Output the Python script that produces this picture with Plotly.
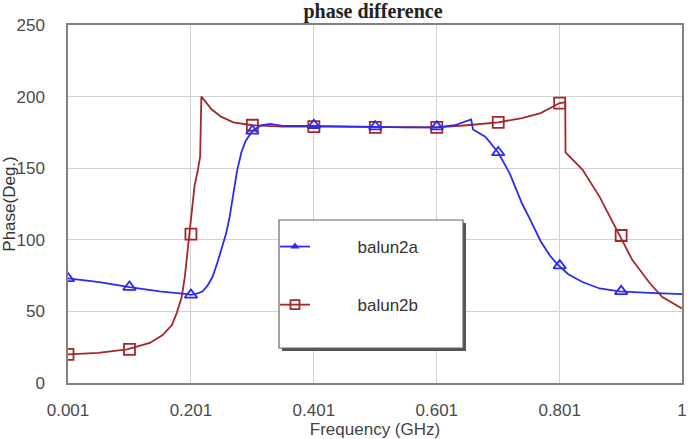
import plotly.graph_objects as go

# ---- data ----
freq_a = [0.001, 0.052, 0.101, 0.15, 0.195, 0.201, 0.212, 0.22, 0.228, 0.236, 0.244, 0.25, 0.258, 0.264,
          0.27, 0.276, 0.283, 0.29, 0.301, 0.315, 0.33, 0.35, 0.401, 0.45, 0.501, 0.55, 0.601, 0.63, 0.657,
          0.66, 0.68, 0.701, 0.72, 0.74, 0.752, 0.77, 0.785, 0.797, 0.815, 0.838, 0.866, 0.898, 0.947, 1.0]
phase_a = [73, 70.5, 67, 64, 62, 61.5, 62.5, 64, 68, 74, 84, 93, 104, 116,
           132, 148, 161, 169, 176, 180, 181, 179.5, 179.5, 179, 179, 178.5, 178.5, 180, 184,
           177, 172, 161, 146, 125, 115, 99, 89, 83, 76, 70.5, 66, 64, 63, 62]

freq_b = [0.001, 0.05, 0.097, 0.134, 0.155, 0.17, 0.178, 0.186, 0.191, 0.195, 0.199, 0.203, 0.207,
          0.212, 0.216, 0.218, 0.225, 0.235, 0.25, 0.27, 0.301, 0.35, 0.401, 0.501, 0.601, 0.65,
          0.701, 0.74, 0.77, 0.801, 0.810, 0.8105, 0.838, 0.866, 0.885, 0.898, 0.919, 0.947, 0.968, 1.0]
phase_b = [20, 21, 23.5, 28, 33.5, 40.5, 49, 60, 74, 91, 108, 125, 138,
           148, 158, 200, 196, 191, 186, 182, 180, 179, 179, 178.5, 178.5, 180,
           182, 185, 188.5, 195.5, 196, 161, 149, 130, 114, 103, 86, 70, 60, 52]

mark_f = [0.001, 0.101, 0.201, 0.301, 0.401, 0.501, 0.601, 0.701, 0.801, 0.901]
mark_a = [73, 67, 61.5, 176, 180, 179, 179, 161, 82, 64]
mark_b = [20, 23.5, 104, 180, 179, 178.5, 178.5, 182, 195.5, 103]

x_ticks = [0.001, 0.201, 0.401, 0.601, 0.801, 1]
x_tick_text = ["0.001", "0.201", "0.401", "0.601", "0.801", "1"]
y_ticks = [0, 50, 100, 150, 200, 250]

BLUE = "#2b2bf2"
RED = "#a3282b"
NB = "\u00a0"

fig = go.Figure()

# balun2b (drawn first)
fig.add_trace(go.Scatter(x=freq_b, y=phase_b, mode="lines", line=dict(color=RED, width=1.8),
                         showlegend=False, hoverinfo="skip"))
fig.add_trace(go.Scatter(x=mark_f, y=mark_b, mode="markers", showlegend=False,
                         marker=dict(symbol="square-open", size=11, color=RED, line=dict(width=1.8))))
# balun2a
fig.add_trace(go.Scatter(x=freq_a, y=phase_a, mode="lines", line=dict(color=BLUE, width=1.8),
                         showlegend=False, hoverinfo="skip"))
fig.add_trace(go.Scatter(x=mark_f, y=mark_a, mode="markers", showlegend=False,
                         marker=dict(symbol="triangle-up-open", size=11, color=BLUE, line=dict(width=1.8))))

# legend entries
fig.add_trace(go.Scatter(x=[None], y=[None], mode="lines+markers", name=NB * 9 + "balun2a" + NB * 5,
                         legendgroup="a", line=dict(color=BLUE, width=1.8),
                         marker=dict(symbol="triangle-up", size=8, color=BLUE)))
fig.add_trace(go.Scatter(x=[None], y=[None], mode="lines+markers", name=NB * 9 + "balun2b" + NB * 5,
                         legendgroup="b", line=dict(color=RED, width=1.8),
                         marker=dict(symbol="square-open", size=9, color=RED, line=dict(width=1.8))))

W, H = 699, 439
L, R, T, B = 68, 17, 25, 56
pw, ph = W - L - R, H - T - B


def px(x):
    return (x - L) / pw


def py(y):
    return (H - B - y) / ph


fig.update_layout(
    width=W, height=H,
    margin=dict(l=L, r=R, t=T, b=B),
    paper_bgcolor="white", plot_bgcolor="white",
    font=dict(family="Arial, Liberation Sans, sans-serif", color="#444444"),
    title=dict(text="<b>phase difference</b>", x=373 / W, xanchor="center", y=1 - 11 / H, yanchor="middle",
               font=dict(family="Liberation Serif, Times New Roman, serif", size=20, color="#222222"),
               automargin=False),
    showlegend=True,
    legend=dict(x=px(275), y=py(229), xanchor="left", yanchor="top", bgcolor="rgba(0,0,0,0)",
                borderwidth=0, font=dict(size=17, color="#333333"), tracegroupgap=33,
                traceorder="grouped"),
    shapes=[
        dict(type="rect", xref="paper", yref="paper", x0=px(282), x1=px(466), y0=py(351), y1=py(223),
             fillcolor="#555555", line=dict(width=0), layer="above"),
        dict(type="rect", xref="paper", yref="paper", x0=px(279), x1=px(463), y0=py(348), y1=py(220),
             fillcolor="white", line=dict(color="#666666", width=1.2), layer="above"),
    ],
)

fig.update_xaxes(range=[0.001, 1.0], tickvals=x_ticks, ticktext=x_tick_text, automargin=False,
                 showgrid=True, gridcolor="#d2d2d2", gridwidth=1, zeroline=False,
                 showline=True, linecolor="#808080", linewidth=1.5, mirror=True,
                 ticks="", ticklabelstandoff=11, tickfont=dict(size=17, color="#4a4a4a"),
                 title=dict(text="Frequency (GHz)", font=dict(size=17, color="#444444"), standoff=12))
fig.update_yaxes(range=[0, 250], tickvals=y_ticks, automargin=False,
                 showgrid=True, gridcolor="#d2d2d2", gridwidth=1, zeroline=False,
                 showline=True, linecolor="#808080", linewidth=1.5, mirror=True,
                 ticks="outside", ticklen=18, tickcolor="rgba(0,0,0,0)",
                 tickfont=dict(size=17, color="#4a4a4a"),
                 title=dict(text="Phase(Deg.)", font=dict(size=17, color="#333333"), standoff=0))

fig.write_html("out.html")
